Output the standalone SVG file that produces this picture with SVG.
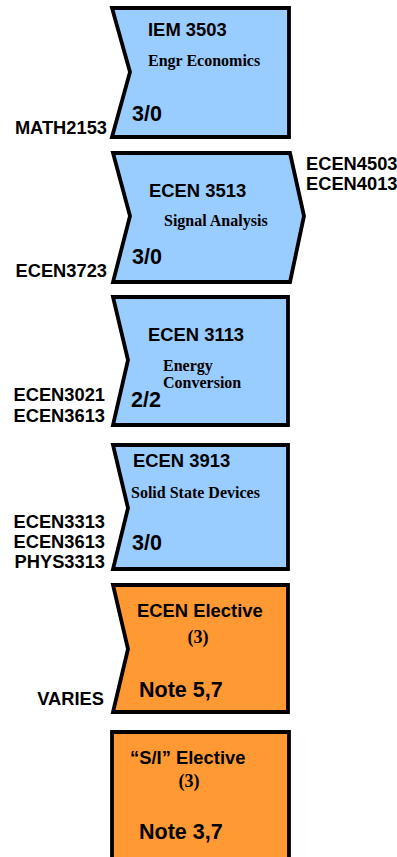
<svg xmlns="http://www.w3.org/2000/svg" width="397" height="857" viewBox="0 0 397 857">
<style>
.box{stroke:#000;stroke-width:3.8;stroke-linejoin:miter}
.blue{fill:#99CCFF}
.orange{fill:#FF9933}
.t{font-family:"Liberation Sans",Arial,sans-serif;font-weight:bold;font-size:18.4px;fill:#000}
.c{font-family:"Liberation Sans",Arial,sans-serif;font-weight:bold;font-size:21.5px;fill:#000}
.d{font-family:"Liberation Serif","Times New Roman",serif;font-weight:bold;font-size:16px;fill:#000}
.p{font-family:"Liberation Serif","Times New Roman",serif;font-weight:bold;font-size:18px;fill:#000}
.l{font-family:"Liberation Sans",Arial,sans-serif;font-weight:bold;font-size:18.3px;fill:#000}
.r{text-anchor:end}
</style>
<rect width="397" height="857" fill="#fff"/>
<g id="iem3503">
<path class="box blue" d="M112,8 L289,8 L289,137 L112,137 L130,72 Z"/>
<text class="t" x="148" y="36">IEM 3503</text>
<text class="d" x="148" y="66">Engr Economics</text>
<text class="c" x="132" y="121">3/0</text>
</g>
<g id="ecen3513">
<path class="box blue" d="M113,153 L290,153 L304,216 L290,282 L113,282 L130,216 Z"/>
<text class="t" x="149" y="197">ECEN 3513</text>
<text class="d" x="164" y="226">Signal Analysis</text>
<text class="c" x="132" y="264">3/0</text>
</g>
<g id="ecen3113">
<path class="box blue" d="M113,297 L288,297 L288,425 L113,425 L128,360 Z"/>
<text class="t" x="148" y="341">ECEN 3113</text>
<text class="d" x="163" y="371">Energy</text>
<text class="d" x="163" y="388">Conversion</text>
<text class="c" x="131" y="407">2/2</text>
</g>
<g id="ecen3913">
<path class="box blue" d="M113,445 L288,445 L288,569 L113,569 L128,508 Z"/>
<text class="t" x="133" y="467">ECEN 3913</text>
<text class="d" x="131" y="498">Solid State Devices</text>
<text class="c" x="132" y="550">3/0</text>
</g>
<g id="ecen-elective">
<path class="box orange" d="M113,585 L288,585 L288,712 L113,712 L128,649 Z"/>
<text class="t" x="137" y="617">ECEN Elective</text>
<text class="p" x="198" y="643" text-anchor="middle">(3)</text>
<text class="c" x="139" y="697">Note 5,7</text>
</g>
<g id="si-elective">
<path class="box orange" d="M112,732 L289,732 L289,875 L112,875 Z"/>
<text class="t" x="130" y="764">“S/I” Elective</text>
<text class="p" x="189" y="787" text-anchor="middle">(3)</text>
<text class="c" x="139" y="839">Note 3,7</text>
</g>
<g id="labels">
<text class="l r" x="107" y="134">MATH2153</text>
<text class="l r" x="107" y="277">ECEN3723</text>
<text class="l" x="306" y="170">ECEN4503</text>
<text class="l" x="306" y="190">ECEN4013</text>
<text class="l r" x="105" y="401">ECEN3021</text>
<text class="l r" x="105" y="422">ECEN3613</text>
<text class="l r" x="105" y="528">ECEN3313</text>
<text class="l r" x="105" y="548">ECEN3613</text>
<text class="l r" x="105" y="568">PHYS3313</text>
<text class="l r" x="104" y="705">VARIES</text>
</g>
<g id="connectors"></g>
</svg>
